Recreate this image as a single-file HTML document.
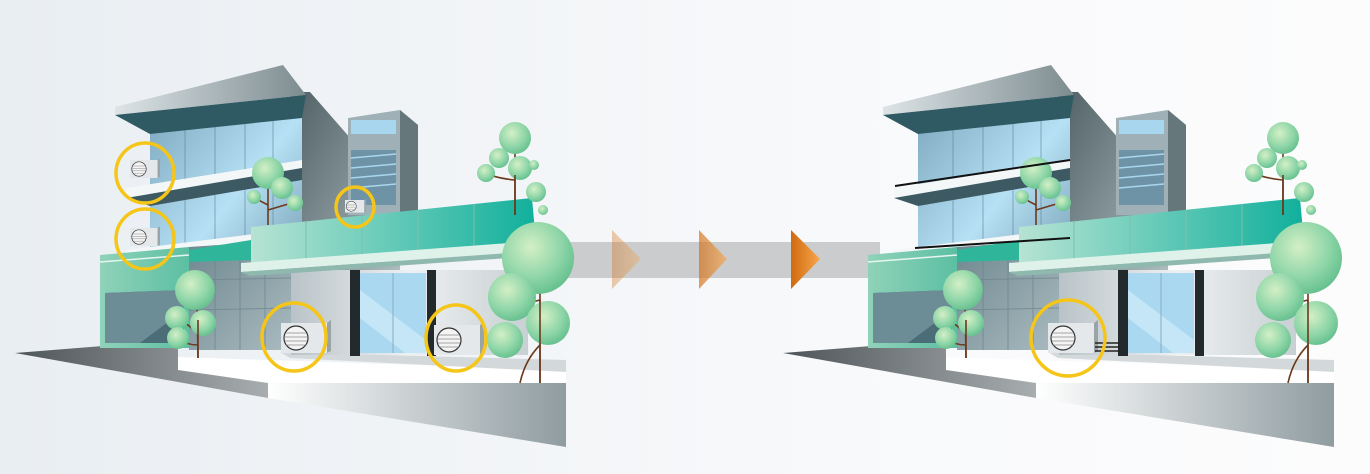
<!DOCTYPE html>
<html><head><meta charset="utf-8"><style>html,body{margin:0;padding:0;width:1370px;height:474px;overflow:hidden}</style></head>
<body>
<svg width="1370" height="474" viewBox="0 0 1370 474" xmlns="http://www.w3.org/2000/svg">
<defs>
<linearGradient id="bg" x1="0" y1="0" x2="1" y2="0"><stop offset="0" stop-color="#e9eef2"/><stop offset="0.6" stop-color="#f8f9fb"/><stop offset="1" stop-color="#fcfcfd"/></linearGradient>
<linearGradient id="wall" x1="0" y1="0" x2="1" y2="1"><stop offset="0" stop-color="#4f5f64"/><stop offset="1" stop-color="#b5c2c6"/></linearGradient>
<linearGradient id="glass" x1="0" y1="0" x2="1" y2="1"><stop offset="0" stop-color="#7fa9c0"/><stop offset="0.5" stop-color="#b6e0f4"/><stop offset="1" stop-color="#6c93a8"/></linearGradient>
<linearGradient id="teal" x1="0" y1="0" x2="1" y2="0"><stop offset="0" stop-color="#b7e3d3"/><stop offset="1" stop-color="#10b09c"/></linearGradient>
<linearGradient id="teal2" x1="0" y1="0" x2="1" y2="0"><stop offset="0" stop-color="#8fd2b9"/><stop offset="1" stop-color="#5cbfa2"/></linearGradient>
<linearGradient id="gray" x1="0" y1="0" x2="1" y2="1"><stop offset="0" stop-color="#6f878f"/><stop offset="1" stop-color="#a9bbc0"/></linearGradient>
<linearGradient id="room" x1="0" y1="0" x2="1" y2="0"><stop offset="0" stop-color="#b9c3c7"/><stop offset="0.5" stop-color="#eef1f2"/><stop offset="1" stop-color="#c8d0d3"/></linearGradient>
<linearGradient id="gnd" x1="0" y1="0" x2="1" y2="0"><stop offset="0" stop-color="#ffffff"/><stop offset="1" stop-color="#8f9ca0"/></linearGradient>
<linearGradient id="dk" x1="0" y1="0" x2="1" y2="0"><stop offset="0" stop-color="#4e5558"/><stop offset="1" stop-color="#a8aeb0"/></linearGradient>
<linearGradient id="slabtop" x1="0" y1="0" x2="1" y2="0"><stop offset="0" stop-color="#dde4e6"/><stop offset="1" stop-color="#7d8c90"/></linearGradient>
<radialGradient id="leaf" cx="0.4" cy="0.35" r="0.7"><stop offset="0" stop-color="#d4efc6"/><stop offset="0.6" stop-color="#8fd6a8"/><stop offset="1" stop-color="#62be8c"/></radialGradient>
<linearGradient id="arr" x1="0" y1="0" x2="1" y2="0"><stop offset="0" stop-color="#d06a10"/><stop offset="1" stop-color="#f7a64c"/></linearGradient>
<g id="bld">
  <polygon points="15,353 178,340 178,357 268,370 268,398" fill="url(#dk)"/>
  <polygon points="268,383 566,383 566,447 268,398" fill="url(#gnd)"/>
  <polygon points="178,357 566,370 566,383 268,383 178,370" fill="#ffffff"/>
  <polygon points="280,352 566,360 566,372 290,358" fill="#d3d9db"/>
  <polygon points="290,92 310,92 400,195 400,300 290,300" fill="url(#wall)"/>
  <polygon points="348,118 400,110 418,125 418,215 348,215" fill="#9fb0b6"/>
  <polygon points="400,110 418,125 418,215 400,215" fill="#66777c"/>
  <rect x="351" y="120" width="45" height="14" fill="#a9d6ef"/>
  <rect x="351" y="150" width="45" height="55" fill="#6e93a6"/>
  <g stroke="#a9d6ef" stroke-width="1.5"><line x1="351" y1="158" x2="396" y2="154"/><line x1="351" y1="168" x2="396" y2="164"/><line x1="351" y1="178" x2="396" y2="174"/><line x1="351" y1="188" x2="396" y2="184"/></g>
  <polygon points="150,132 302,114 302,300 150,300" fill="url(#glass)"/>
  <g stroke="#5d8396" stroke-width="1" opacity="0.6"><line x1="185" y1="128" x2="185" y2="300"/><line x1="215" y1="125" x2="215" y2="300"/><line x1="245" y1="121" x2="245" y2="300"/><line x1="273" y1="118" x2="273" y2="300"/></g>
  <polygon points="115,107 283,65 306,95 115,115" fill="url(#slabtop)"/>
  <polygon points="115,115 306,95 302,118 150,134" fill="#2f5a64"/>
  <polygon points="126,188 302,160 302,168 126,198" fill="#f4f7f8"/>
  <polygon points="126,198 302,168 302,180 150,206" fill="#3d5a62"/>
  <polygon points="126,250 302,228 302,235 126,258" fill="#f4f7f8"/>
  <polygon points="189,247 291,240 291,350 189,350" fill="url(#gray)"/>
  <g stroke="#6b838b" stroke-width="1" opacity="0.7"><line x1="215" y1="245" x2="215" y2="350"/><line x1="240" y1="244" x2="240" y2="350"/><line x1="265" y1="242" x2="265" y2="350"/><line x1="189" y1="280" x2="291" y2="278"/><line x1="189" y1="310" x2="291" y2="308"/></g>
  <polygon points="100,255 189,247 189,348 100,348" fill="url(#teal2)"/>
  <line x1="100" y1="262" x2="189" y2="255" stroke="#e6f5ef" stroke-width="1.5"/>
  <polygon points="105,293 184,290 184,343 105,343" fill="#4a6d77"/>
  <polygon points="105,293 184,290 184,310 140,343 105,343" fill="#6d8d96"/>
  <rect x="291" y="270" width="237" height="85" fill="url(#room)"/>
  <rect x="360" y="273" width="66" height="80" fill="#a9d8f0"/>
  <polygon points="360,290 426,340 426,353 405,353 360,318" fill="#d2ecf8" opacity="0.7"/>
  <line x1="393" y1="273" x2="393" y2="353" stroke="#86aec4"/>
  <rect x="350" y="270" width="10" height="86" fill="#222a2d"/>
  <rect x="427" y="270" width="9" height="86" fill="#222a2d"/>
  <polygon points="251,227 532,198 536,243 251,263" fill="url(#teal)"/>
  <g stroke="#7fbfaa" stroke-width="1"><line x1="306" y1="222" x2="306" y2="259"/><line x1="362" y1="216" x2="362" y2="255"/><line x1="418" y1="210" x2="418" y2="251"/><line x1="474" y1="204" x2="474" y2="247"/></g>
  <polygon points="189,250 251,240 251,260 189,262" fill="#2fb69a"/>
  <polygon points="241,263 509,243 509,253 241,272" fill="#dff2ea"/>
  <polygon points="241,272 509,253 509,258 250,276" fill="#8fb8ae"/>
  <g stroke="#6b3a1c" stroke-width="1.6" fill="none">
   <path d="M197,300 L198,358"/><path d="M198,335 Q190,325 180,320"/><path d="M198,345 Q188,345 180,340"/>
   <path d="M268,180 L268,225"/><path d="M268,205 Q258,200 254,197"/><path d="M268,210 Q285,205 295,202"/>
   <path d="M515,150 L515,215"/><path d="M515,180 Q495,178 486,173"/><path d="M515,175 Q528,168 534,165"/>
   <path d="M540,250 L540,383"/><path d="M540,300 Q522,305 513,300"/><path d="M540,345 Q525,360 520,383"/>
  </g>
  <g fill="url(#leaf)">
   <circle cx="195" cy="290" r="20"/><circle cx="177" cy="318" r="12"/><circle cx="203" cy="323" r="13"/><circle cx="178" cy="338" r="11"/>
   <circle cx="268" cy="173" r="16"/><circle cx="282" cy="188" r="11"/><circle cx="254" cy="197" r="7"/><circle cx="295" cy="203" r="8"/>
   <circle cx="515" cy="138" r="16"/><circle cx="499" cy="158" r="10"/><circle cx="520" cy="168" r="12"/><circle cx="486" cy="173" r="9"/><circle cx="534" cy="165" r="5"/><circle cx="536" cy="192" r="10"/><circle cx="543" cy="210" r="5"/>
   <circle cx="538" cy="258" r="36"/><circle cx="512" cy="297" r="24"/><circle cx="548" cy="323" r="22"/><circle cx="505" cy="340" r="18"/>
  </g>
  <g stroke="#6b3a1c" stroke-width="1.6" fill="none"><path d="M198,320 L198,358"/><path d="M540,300 L540,383"/><path d="M515,175 L515,215"/></g>
</g>
<g id="ac">
  <rect x="0" y="0" width="46" height="30" fill="#e4e8ea"/>
  <polygon points="46,0 50,-3 50,28 46,30" fill="#9aa3a6"/>
  <ellipse cx="15" cy="15" rx="12" ry="12" fill="#f4f4f4" stroke="#333" stroke-width="1.2"/>
  <g stroke="#888" stroke-width="0.8"><line x1="5" y1="10" x2="25" y2="10"/><line x1="4" y1="14" x2="26" y2="14"/><line x1="4" y1="18" x2="26" y2="18"/><line x1="5" y1="22" x2="25" y2="22"/></g>
</g>
</defs>
<rect width="1370" height="474" fill="url(#bg)"/>
<rect x="540" y="242" width="340" height="36" fill="#cbcccd"/>
<polygon points="612,230 641,259 612,289" fill="url(#arr)" opacity="0.35"/>
<polygon points="699,230 727,259 699,289" fill="url(#arr)" opacity="0.65"/>
<polygon points="791,230 820,259 791,289" fill="url(#arr)"/>
<use href="#bld"/>
<use href="#bld" transform="translate(768,0)"/>
<use href="#ac" transform="translate(130,160) scale(0.6)"/>
<use href="#ac" transform="translate(130,228) scale(0.6)"/>
<use href="#ac" transform="translate(345,200) scale(0.42)"/>
<use href="#ac" transform="translate(281,323)"/>
<use href="#ac" transform="translate(434,325)"/>
<g fill="none" stroke="#f5c518" stroke-width="3.5">
 <ellipse cx="145" cy="173" rx="29" ry="30"/>
 <ellipse cx="145" cy="239" rx="29" ry="30"/>
 <ellipse cx="355" cy="207" rx="19" ry="20"/>
 <ellipse cx="294" cy="337" rx="32" ry="34"/>
 <ellipse cx="456" cy="338" rx="30" ry="33"/>
</g>
<g stroke="#111" stroke-width="2"><line x1="895" y1="186" x2="1070" y2="160"/><line x1="915" y1="248" x2="1070" y2="238"/></g>
<use href="#ac" transform="translate(1048,323)"/>
<g stroke="#222" stroke-width="1.5"><line x1="1095" y1="343" x2="1120" y2="343"/><line x1="1095" y1="347" x2="1120" y2="347"/><line x1="1095" y1="351" x2="1120" y2="351"/></g>
<ellipse cx="1068" cy="338" rx="37" ry="38" fill="none" stroke="#f5c518" stroke-width="3.5"/>
</svg>
</body></html>
